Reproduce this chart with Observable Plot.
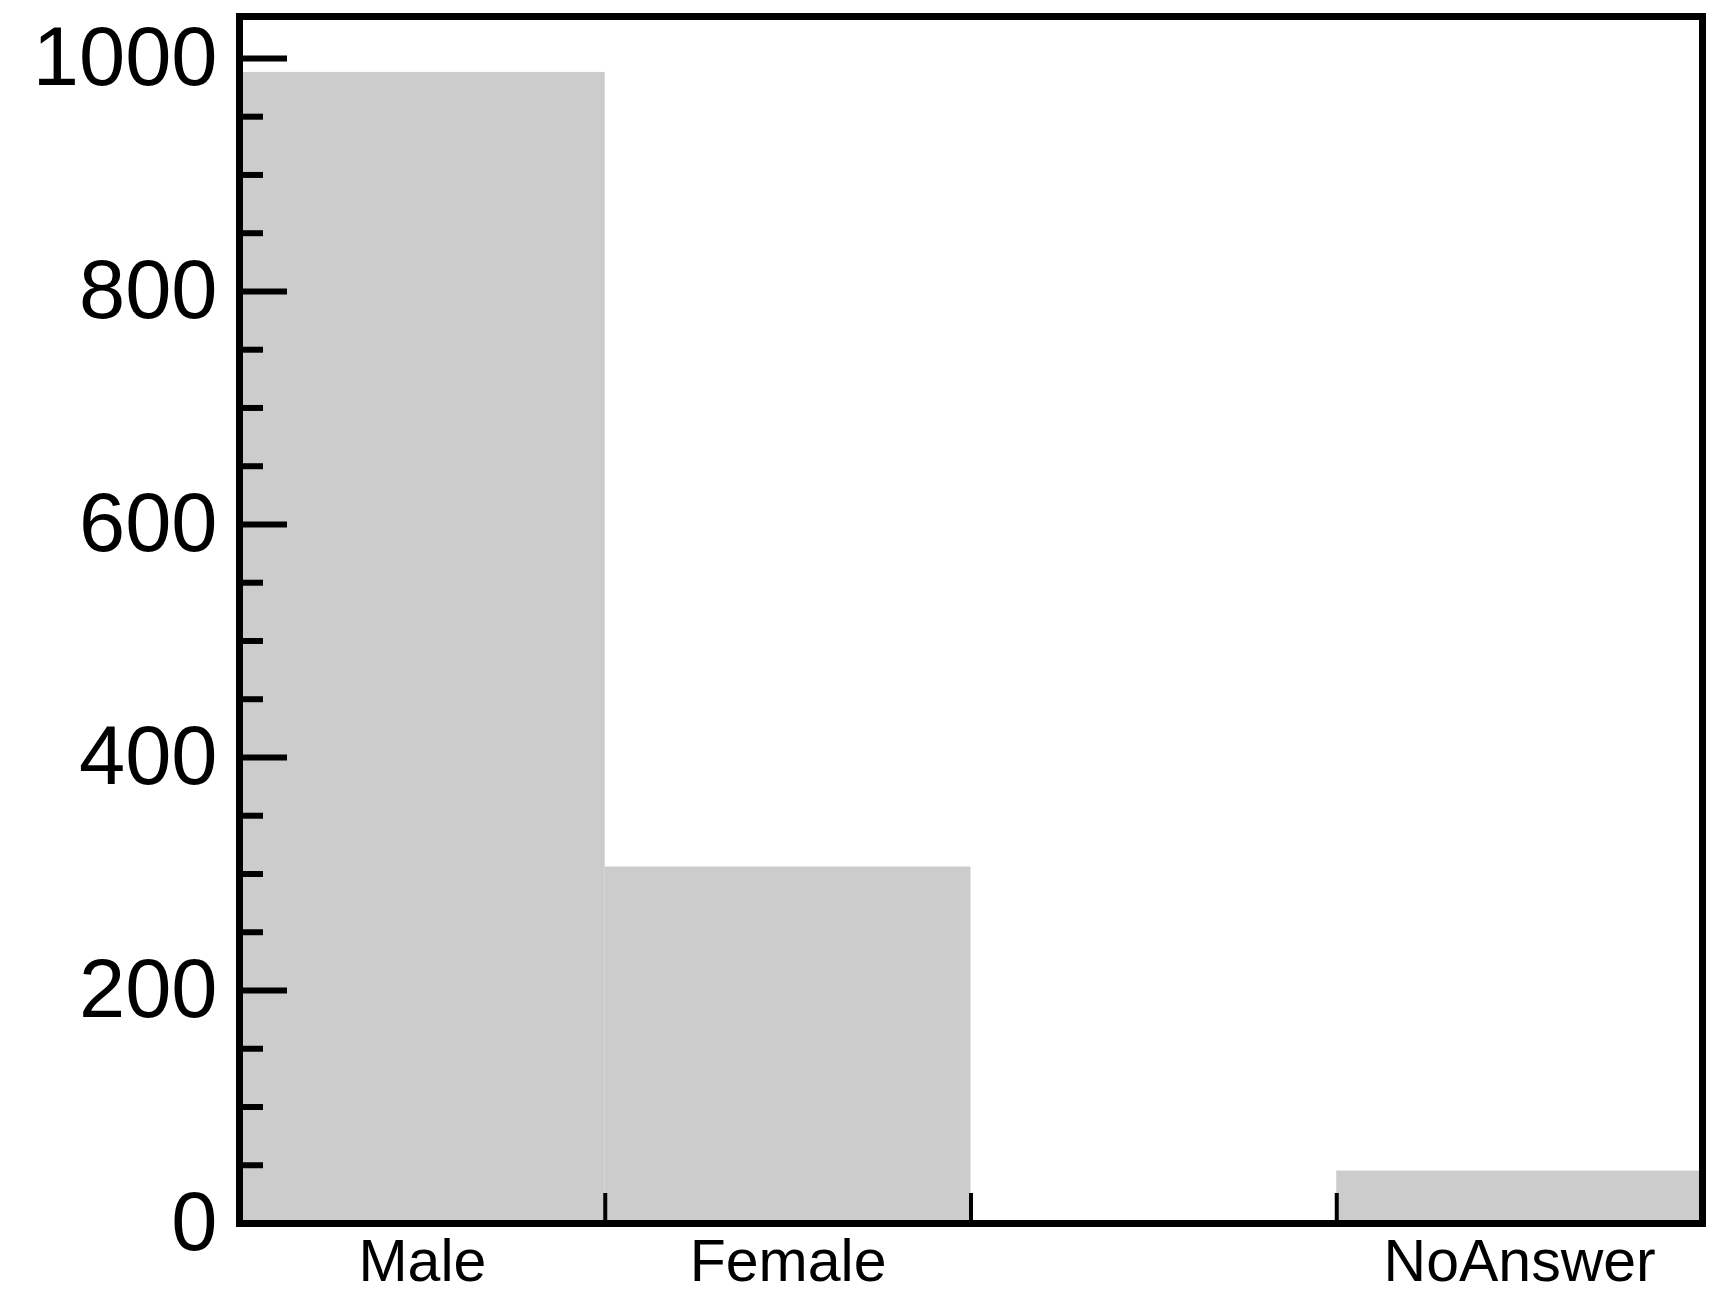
<!DOCTYPE html>
<html><head><meta charset="utf-8">
<script src="https://cdn.jsdelivr.net/npm/d3@7"></script>
<script src="https://cdn.jsdelivr.net/npm/@observablehq/plot@0.6"></script>
<style>html,body{margin:0;padding:0;background:#fff} #chart svg{display:block}</style>
</head><body><div id="chart"></div>
<script>
const categories = ["Male", "Female", "", "NoAnswer"];
const counts = [988, 306, 0, 45];
const yMajorTicks = [0, 200, 400, 600, 800, 1000];
const yMinorTicks = [50, 100, 150, 250, 300, 350, 450, 500, 550, 650, 700, 750, 850, 900, 950];
const yMax = 1036;

const bins = categories.map((c, i) => ({category: c, x1: i, x2: i + 1, count: counts[i]}));
const binEdges = bins.map(d => d.x2);
const labelled = bins.filter(d => d.category !== "");
const labelCenters = labelled.map(d => (d.x1 + d.x2) / 2);
const labelFor = v => { const b = bins.find(d => (d.x1 + d.x2) / 2 === v); return b ? b.category : ""; };

const chart = Plot.plot({
  width: 1717, height: 1297,
  marginLeft: 239, marginRight: 15, marginTop: 16, marginBottom: 74,
  x: {domain: [0, categories.length], label: null},
  y: {domain: [0, yMax], label: null},
  style: {fontFamily: "'Liberation Sans', Arial, Helvetica, sans-serif", color: "black", background: "white"},
  marks: [
    Plot.rectY(bins, {x1: "x1", x2: "x2", y: "count", fill: "#cccccc"}),
    Plot.axisY({ticks: yMinorTicks, tickSize: -24, strokeWidth: 6, tickFormat: () => "", label: null}),
    Plot.axisY({ticks: yMajorTicks, tickSize: -48, strokeWidth: 6, tickFormat: () => "", label: null}),
    Plot.axisY({ticks: yMajorTicks, tickSize: 0, tickPadding: 22, fontSize: 83, tickFormat: d => String(d), label: null}),
    Plot.axisX({ticks: binEdges, tickSize: -30, strokeWidth: 4, tickFormat: () => "", label: null}),
    Plot.axisX({ticks: labelCenters, tickSize: 0, tickPadding: 16, fontSize: 59, tickFormat: labelFor, label: null}),
    Plot.frame({stroke: "black", strokeWidth: 7})
  ]
});
document.getElementById("chart").appendChild(chart);
</script>
</body></html>
